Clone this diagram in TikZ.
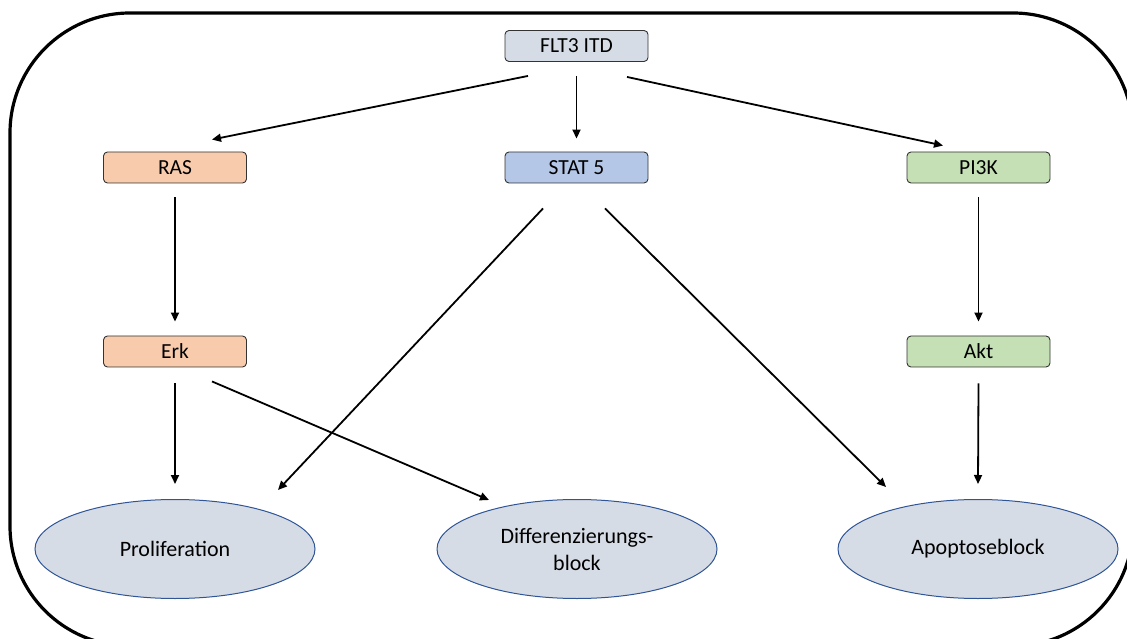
\documentclass[tikz,border=0pt]{standalone}
\usepackage{fontspec}
\setmainfont{Carlito}
\usetikzlibrary{arrows.meta,shapes.geometric}
\definecolor{fltfill}{HTML}{D6DCE5}
\definecolor{statfill}{HTML}{B4C7E7}
\definecolor{rasfill}{HTML}{F8CBAD}
\definecolor{pifill}{HTML}{C5E0B4}
\definecolor{ellfill}{HTML}{D6DCE5}
\definecolor{elldraw}{HTML}{2F5597}
\begin{document}
\begin{tikzpicture}[x=1pt,y=1pt,
  box/.style={draw=black!80, line width=0.9pt, rounded corners=4pt, minimum width=143pt, minimum height=31pt, inner sep=0pt, font=\fontsize{21.5}{25}\selectfont},
  oval/.style={ellipse, draw=elldraw, line width=1pt, fill=ellfill, minimum width=280pt, minimum height=99pt, inner sep=0pt, align=center, font=\fontsize{22}{27}\selectfont},
  arr/.style={line width=1.8pt, -{Triangle[length=9pt,width=8pt]}}]
\useasboundingbox (0,0) rectangle (1127,638);
\begin{scope}
\clip (0,0) rectangle (1127,638);
\draw[line width=3.2pt, rounded corners=120pt] (10,-8) rectangle (1133,625);
\end{scope}
\node[box, fill=fltfill] (flt) at (576.5,592) {FLT3 ITD};
\node[box, fill=rasfill] (ras) at (175,470.5) {RAS};
\node[box, fill=statfill] (stat) at (576.5,470.5) {STAT 5};
\node[box, fill=pifill] (pi) at (978.5,470.5) {PI3K};
\node[box, fill=rasfill] (erk) at (175,286.5) {Erk};
\node[box, fill=pifill] (akt) at (978.5,286.5) {Akt};
\node[oval] (prol) at (175,89) {Proliferation};
\node[oval] (diff) at (577,89) {Differenzierungs-\\block};
\node[oval] (apo) at (978,89) {Apoptoseblock\vphantom{p}};
\draw[arr] ([shift={(-48.5,-14)}]flt.south) -- ([shift={(37,12)}]ras.north);
\draw[arr] ([shift={(0,-14)}]flt.south) -- ([shift={(0,13)}]stat.north);
\draw[arr] ([shift={(50.5,-15)}]flt.south) -- ([shift={(-35.5,6)}]pi.north);
\draw[arr] ([shift={(0,-14)}]ras.south) -- ([shift={(0,14)}]erk.north);
\draw[arr] ([shift={(0,-14)}]pi.south) -- ([shift={(0,14)}]akt.north);
\draw[arr] ([shift={(0,-16)}]erk.south) -- ([shift={(0,15)}]prol.north);
\draw[arr] ([shift={(0,-16)}]akt.south) -- ([shift={(0,15)}]apo.north);
\draw[arr] ([shift={(37,-14)}]erk.south) -- ([shift={(-88,49)}]diff.center);
\draw[arr] ([shift={(-33.5,-25)}]stat.south) -- ([shift={(103,59)}]prol.center);
\draw[arr] ([shift={(28.5,-25)}]stat.south) -- ([shift={(-92,62)}]apo.center);
\end{tikzpicture}
\end{document}
